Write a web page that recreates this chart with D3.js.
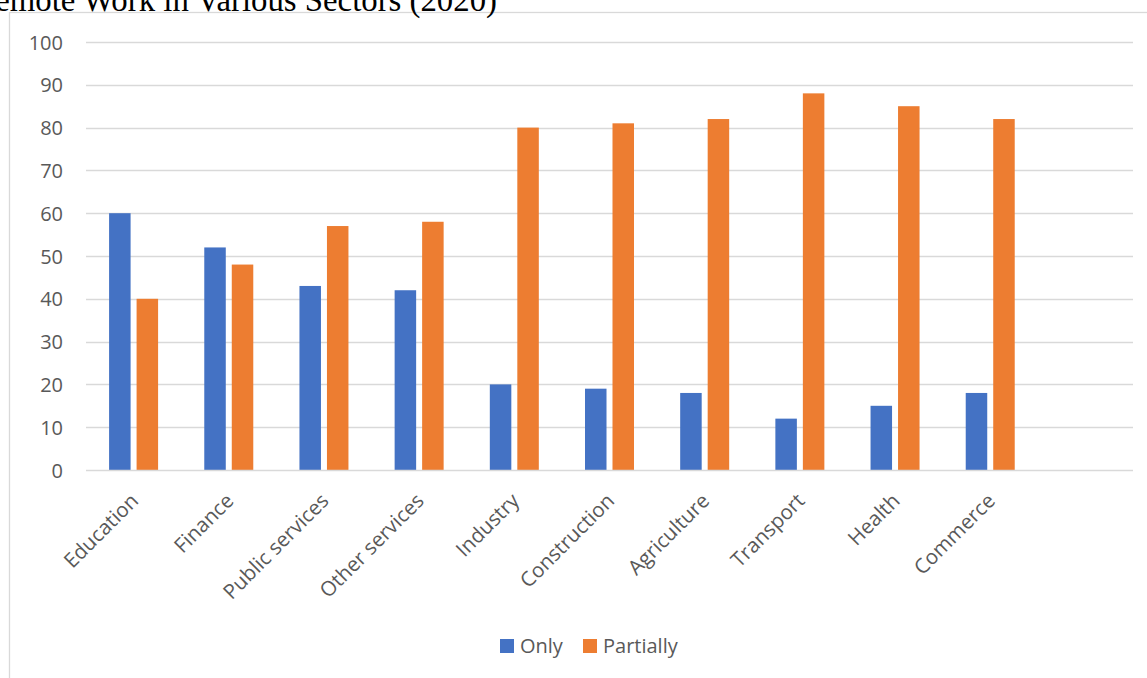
<!DOCTYPE html>
<html>
<head>
<meta charset="utf-8">
<script src="https://cdn.jsdelivr.net/npm/d3@7"></script>
<style>
  html, body { margin: 0; padding: 0; background: #fff; overflow: hidden; }
  svg { display: block; }
</style>
</head>
<body>
<svg id="chart" width="1147" height="678"></svg>
<script>
// Share of remote work by sector, 2020
const categories = ["Education", "Finance", "Public services", "Other services", "Industry",
                    "Construction", "Agriculture", "Transport", "Health", "Commerce"];
const onlyValues = [60, 52, 43, 42, 20, 19, 18, 12, 15, 18];
const partiallyValues = [40, 48, 57, 58, 80, 81, 82, 88, 85, 82];
const seriesNames = ["Only", "Partially"];
const seriesColors = ["#4472C4", "#ED7D31"];
const yTicks = [0, 10, 20, 30, 40, 50, 60, 70, 80, 90, 100];
const titleText = "Remote Work in Various Sectors (2020)";

// one blank category slot follows the last sector
const slotCount = categories.length + 1;

const svg = d3.select("#chart");
const font = "'Open Sans', 'Noto Sans', sans-serif";
const textColor = "#595959";
const gridColor = "#d9d9d9";

const plot = { left: 86, right: 1133, top: 42, bottom: 470 };

// chart frame
svg.append("rect")
  .attr("x", 9.5).attr("y", 12.5)
  .attr("width", 1200).attr("height", 700)
  .attr("fill", "none").attr("stroke", gridColor).attr("stroke-width", 1.3);

// title
svg.append("text")
  .attr("x", 497).attr("y", 11)
  .attr("text-anchor", "end")
  .attr("font-family", "'Liberation Serif', 'Times New Roman', serif")
  .attr("font-size", 32.8)
  .attr("fill", "#000")
  .text(titleText);

const x0 = d3.scaleBand().domain(d3.range(slotCount)).range([plot.left, plot.right]).padding(0);
const x1 = d3.scaleBand().domain(seriesNames).range([-24.5, 24.5]).paddingInner(0.218).paddingOuter(0);
const y = d3.scaleLinear().domain([0, 100]).range([plot.bottom, plot.top]);

// gridlines
svg.append("g")
  .selectAll("line")
  .data(yTicks.filter(t => t !== 0))
  .join("line")
  .attr("x1", plot.left).attr("x2", plot.right)
  .attr("y1", d => Math.round(y(d)) + 0.5).attr("y2", d => Math.round(y(d)) + 0.5)
  .attr("stroke", gridColor).attr("stroke-width", 1.3);

// y axis labels
const yAxis = d3.axisLeft(y).tickValues(yTicks).tickSize(0).tickPadding(0);
const yg = svg.append("g").attr("transform", `translate(63,0)`).call(yAxis);
yg.select(".domain").remove();
yg.selectAll("text")
  .attr("font-family", font).attr("font-size", 20).attr("fill", textColor)
  .attr("dy", "0.35em");

// bars
const rows = categories.map((c, i) => ({ i, values: [onlyValues[i], partiallyValues[i]] }));
const groups = svg.append("g")
  .selectAll("g")
  .data(rows)
  .join("g")
  .attr("transform", d => `translate(${x0(d.i) + x0.bandwidth() / 2},0)`);
groups.selectAll("rect")
  .data(d => d.values.map((v, k) => ({ k, v })))
  .join("rect")
  .attr("x", d => x1(seriesNames[d.k]))
  .attr("width", x1.bandwidth())
  .attr("y", d => y(d.v))
  .attr("height", d => y(0) - y(d.v))
  .attr("fill", d => seriesColors[d.k]);

// x axis line
svg.append("line")
  .attr("x1", plot.left).attr("x2", plot.right)
  .attr("y1", plot.bottom + 0.5).attr("y2", plot.bottom + 0.5)
  .attr("stroke", gridColor).attr("stroke-width", 1.5);

// category labels
const xAxis = d3.axisBottom(x0).tickSize(0).tickFormat(i => categories[i] || "");
const xg = svg.append("g").attr("transform", `translate(0,${plot.bottom})`).call(xAxis);
xg.select(".domain").remove();
xg.selectAll("text")
  .attr("font-family", font).attr("font-size", 20.5).attr("fill", textColor)
  .attr("text-anchor", "end")
  .attr("dy", "0.35em")
  .attr("y", 0)
  .attr("transform", "translate(1,27) rotate(-45)");

// legend
const legend = svg.append("g").attr("transform", "translate(500,639)");
const legendX = [0, 83];
seriesNames.forEach((name, k) => {
  const g = legend.append("g").attr("transform", `translate(${legendX[k]},0)`);
  g.append("rect").attr("width", 14).attr("height", 14).attr("fill", seriesColors[k]);
  g.append("text")
    .attr("x", 20).attr("y", 14)
    .attr("font-family", font).attr("font-size", 20).attr("fill", textColor)
    .text(name);
});
</script>
</body>
</html>
